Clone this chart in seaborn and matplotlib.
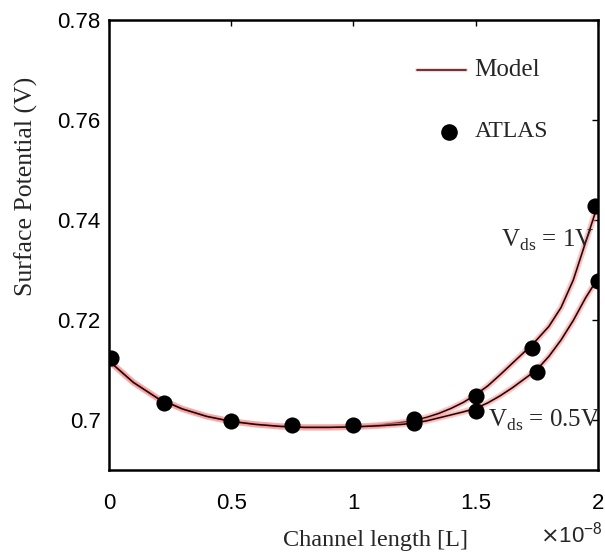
import matplotlib
matplotlib.use("Agg")
import matplotlib.pyplot as plt
import seaborn as sns
import pandas as pd

# channel length in units of 1e-8 m
model_x = [0.0, 0.1, 0.2, 0.3, 0.4, 0.5, 0.6, 0.7, 0.8, 0.9, 1.0, 1.1,
           1.2, 1.25, 1.3, 1.35, 1.4, 1.45, 1.5, 1.55, 1.6, 1.65, 1.7, 1.75,
           1.8, 1.85, 1.9, 1.95, 2.0]
model_vds1 = [0.7118, 0.7075, 0.7043, 0.7022, 0.7007, 0.6997, 0.6991, 0.6987,
              0.6985, 0.6985, 0.6986, 0.6989,
              0.6995, 0.6999, 0.7005, 0.7013, 0.7023, 0.7035, 0.7050, 0.7068,
              0.7090, 0.7113, 0.7136, 0.7160, 0.7187, 0.7225, 0.7280, 0.7355,
              0.7430]
model_vds05 = [0.7118, 0.7075, 0.7043, 0.7022, 0.7007, 0.6997, 0.6991, 0.6987,
               0.6985, 0.6985, 0.6986, 0.6988,
               0.6991, 0.6994, 0.6998, 0.7004, 0.7010, 0.7016, 0.7023, 0.7034,
               0.7048, 0.7064, 0.7082, 0.7100, 0.7127, 0.7160, 0.7199, 0.7244,
               0.7283]
atlas_x = [0.01, 0.225, 0.5, 0.75, 1.0, 1.25, 1.25, 1.5, 1.5, 1.73, 1.75, 1.99, 2.0]
atlas_y = [0.7123, 0.7034, 0.6997, 0.6990, 0.6990, 0.6993, 0.7002, 0.7048, 0.7018,
           0.7143, 0.7095, 0.7428, 0.7278]
xticks = [0, 0.5, 1, 1.5, 2]
xtick_labels = ["0", "0.5", "1", "1.5", "2"]
yticks = [0.70, 0.72, 0.74, 0.76, 0.78]
ytick_labels = ["0.7", "0.72", "0.74", "0.76", "0.78"]

sns.set_style("white")
plt.rcParams["font.family"] = ["Liberation Sans", "DejaVu Sans"]

fig = plt.figure(figsize=(6.05, 5.6), dpi=100)
ax = fig.add_axes([0.180, 0.161, 0.808, 0.803])

df1 = pd.DataFrame({"x": model_x, "y": model_vds1})
df2 = pd.DataFrame({"x": model_x, "y": model_vds05})
dfa = pd.DataFrame({"x": atlas_x, "y": atlas_y})

for d in (df1, df2):
    sns.lineplot(data=d, x="x", y="y", ax=ax, color="#f08080", lw=4.5, alpha=0.4)
    sns.lineplot(data=d, x="x", y="y", ax=ax, color="#ff9a9a", lw=2.4, alpha=0.6)
    sns.lineplot(data=d, x="x", y="y", ax=ax, color="#1a0000", lw=1.1)
sns.scatterplot(data=dfa, x="x", y="y", ax=ax, color="black", s=135,
                edgecolor="black", linewidth=0, zorder=5)

ax.set_xlim(0, 2)
ax.set_ylim(0.69, 0.78)
ax.set_xticks(xticks)
ax.set_xticklabels(xtick_labels)
ax.set_yticks(yticks)
ax.set_yticklabels(ytick_labels)
ax.tick_params(direction="in", length=4, width=1, labelsize=16, colors="black",
               top=True, right=True, pad=6)
ax.tick_params(axis="x", pad=17)
for s in ax.spines.values():
    s.set_color("black")
    s.set_linewidth(1.8)

serif = ["Liberation Serif", "DejaVu Serif"]
ax.set_xlabel("")
ax.set_ylabel("")
fig.text(0.043, 0.668, "Surface Potential (V)", family=serif, fontsize=18.5,
         rotation=90, ha="center", va="center")
fig.text(0.620, 0.035, "Channel length [L]", family=serif, fontsize=17.5,
         ha="center", va="center")
fig.text(0.944, 0.022, r"$\times$10$^{\mathregular{-8}}$", fontsize=16,
         ha="center", va="bottom")

ax.text(1.985, 0.7360, r"V$_{\mathregular{ds}}$ = 1V", family=serif, fontsize=18,
        ha="right", va="center")
ax.text(2.01, 0.6998, r"V$_{\mathregular{ds}}$ = 0.5V", family=serif, fontsize=18,
        ha="right", va="center")

# legend
ax.plot([1.26, 1.46], [0.7700, 0.7700], color="#1a0000", lw=1.3)
ax.plot([1.26, 1.46], [0.7700, 0.7700], color="#f08080", lw=3, alpha=0.3)
ax.text(1.495, 0.7700, "Model", family=serif, fontsize=18, ha="left", va="center")
ax.scatter([1.39], [0.7577], s=120, color="black", zorder=5)
ax.text(1.495, 0.7577, "ATLAS", family=serif, fontsize=17, ha="left", va="center")

fig.savefig("out.png", dpi=100)
